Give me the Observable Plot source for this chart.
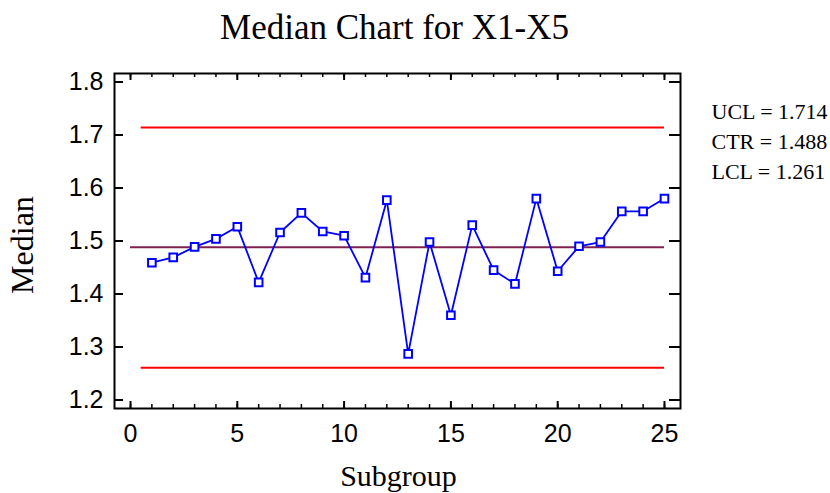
<!DOCTYPE html>
<html><head><meta charset="utf-8">
<script src="https://cdn.jsdelivr.net/npm/d3@7"></script>
<script src="https://cdn.jsdelivr.net/npm/@observablehq/plot@0.6"></script>
<style>html,body{margin:0;padding:0;background:#fff}</style>
</head><body><div id="chart"></div>
<script>
// ---- data ----
const subgroups = [1,2,3,4,5,6,7,8,9,10,11,12,13,14,15,16,17,18,19,20,21,22,23,24,25];
const medians = [1.459,1.469,1.489,1.504,1.527,1.422,1.516,1.553,1.518,1.510,1.431,1.577,1.287,1.498,1.360,1.530,1.445,1.419,1.580,1.443,1.490,1.498,1.556,1.556,1.580];
const ucl = 1.714, ctr = 1.488, lcl = 1.261;
const limitSpan = [0.5, 25];   // subgroup range of UCL/LCL lines
const centerSpan = [0, 25];    // subgroup range of the centre line
const legendLabels = ["UCL = 1.714", "CTR = 1.488", "LCL = 1.261"];
const xMajorTicks = [0, 5, 10, 15, 20, 25];
const xMinorTicks = d3.range(0, 26);
const yTicks = [1.2, 1.3, 1.4, 1.5, 1.6, 1.7, 1.8];
const titleText = "Median Chart for X1-X5";
const xLabel = "Subgroup";
const yLabel = "Median";

const points = subgroups.map((s, i) => ({subgroup: s, median: medians[i]}));

// ---- layout ----
const W = 830, H = 493, ML = 114, MR = 150, MT = 73, MB = 85;
const FW = W - ML - MR, FH = H - MT - MB;
const serif = "'Liberation Serif', 'Times New Roman', serif";
const sans = "'Liberation Sans', Arial, sans-serif";

const chart = Plot.plot({
  width: W, height: H,
  marginLeft: ML, marginRight: MR, marginTop: MT, marginBottom: MB,
  style: {background: "#fff", color: "#000", fontFamily: sans, overflow: "visible"},
  x: {domain: [-0.75, 25.75]},
  y: {domain: [1.184, 1.816]},
  marks: [
    // tick labels
    Plot.axisX({ticks: xMajorTicks, tickSize: 0, tickPadding: 16, fontSize: 25, fontFamily: sans, label: null}),
    Plot.axisY({ticks: yTicks, tickSize: 0, tickPadding: 11, fontSize: 25, fontFamily: sans, tickFormat: d3.format(".1f"), label: null}),
    // inward ticks, bottom & top
    Plot.tickX(xMinorTicks, {x: d => d, insetTop: FH - 4, stroke: "#000", strokeWidth: 1.5}),
    Plot.tickX(xMajorTicks, {x: d => d, insetTop: FH - 7, stroke: "#000", strokeWidth: 2}),
    Plot.tickX(xMinorTicks, {x: d => d, insetBottom: FH - 4, stroke: "#000", strokeWidth: 1.5}),
    Plot.tickX(xMajorTicks, {x: d => d, insetBottom: FH - 7, stroke: "#000", strokeWidth: 2}),
    // inward ticks, left & right
    Plot.tickY(yTicks, {y: d => d, insetRight: FW - 9, stroke: "#000", strokeWidth: 2}),
    Plot.tickY(yTicks, {y: d => d, insetLeft: FW - 11, stroke: "#000", strokeWidth: 2}),
    // control lines
    Plot.ruleY([ucl, lcl], {x1: limitSpan[0], x2: limitSpan[1], stroke: "#ff0000", strokeWidth: 2}),
    Plot.ruleY([ctr], {x1: centerSpan[0], x2: centerSpan[1], stroke: "#80204f", strokeWidth: 2}),
    // series
    Plot.line(points, {x: "subgroup", y: "median", stroke: "#0000ff", strokeWidth: 1.8}),
    Plot.dot(points, {x: "subgroup", y: "median", symbol: "square", r: 4.3, stroke: "#0000ff", fill: "#fff", strokeWidth: 2}),
    Plot.frame({stroke: "#000", strokeWidth: 2}),
    // title and axis labels
    Plot.text([titleText], {text: d => d, frameAnchor: "top", textAnchor: "middle", lineAnchor: "bottom", dy: -35, dx: -3, fontSize: 35, fontFamily: serif, fill: "#000"}),
    Plot.text([xLabel], {text: d => d, frameAnchor: "bottom", textAnchor: "middle", lineAnchor: "bottom", dy: 77, dx: 1, fontSize: 30, fontFamily: serif, fill: "#000"}),
    Plot.text([yLabel], {text: d => d, frameAnchor: "left", textAnchor: "middle", lineAnchor: "bottom", rotate: -90, dx: -82, dy: 4, fontSize: 32, fontFamily: serif, fill: "#000"}),
    // legend
    ...legendLabels.map((t, i) => Plot.text([t], {text: d => d, frameAnchor: "top-right", textAnchor: "start", lineAnchor: "bottom", dx: 31, dy: 45 + i * 30, fontSize: 22, fontFamily: serif, fill: "#000"}))
  ]
});
document.getElementById("chart").append(chart);
</script>
</body></html>
